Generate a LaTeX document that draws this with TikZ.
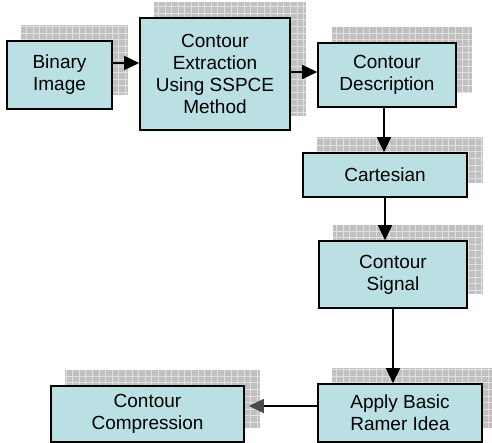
\documentclass[tikz,border=0pt]{standalone}
\usepackage{xcolor}
\usepackage{fontspec}
\setmainfont{Liberation Sans}
\usepackage{tikz}
\usetikzlibrary{arrows.meta, positioning, backgrounds}
\definecolor{boxfill}{RGB}{186,224,228}
\definecolor{shadefill}{RGB}{192,192,192}
\definecolor{shadegrid}{RGB}{224,224,224}
\tikzset{
	x=1pt, y=-1pt, % one unit is one pixel of the layout
	>={Triangle[length=15pt,width=14pt]}, % bold filled arrow heads
	block/.style={draw, line width=1.6pt, fill=boxfill, align=center, inner sep=0pt,
		font=\fontsize{19}{22}\selectfont}, % sets the properties for each box
	flow/.style={->, line width=1.6pt, black}, % connectors between the boxes
}
\begin{document}
\begin{tikzpicture}
	\useasboundingbox (0,0) rectangle (492,443);

	\node[block, minimum width=105, minimum height=68] (b1) at (59.5,75) {Binary\\Image};
	\node[block, minimum width=150, minimum height=112] (b2) at (215,74) {Contour\\Extraction\\Using SSPCE\\Method};
	\node[block, minimum width=138, minimum height=64] (b3) at (387,75) {Contour\\Description};
	\node[block, minimum width=164, minimum height=44] (b4) at (385,175) {Cartesian};
	\node[block, minimum width=148, minimum height=67] (b5) at (393,274.5) {Contour\\Signal};
	\node[block, minimum width=164, minimum height=58] (b6) at (400,413) {Apply Basic\\Ramer Idea};
	\node[block, minimum width=193, minimum height=56] (b7) at (147.5,414) {Contour\\Compression};

	% gridded shadows behind the boxes
	\begin{scope}[on background layer]
		\foreach \i in {1,...,7}
		{
			\begin{scope}
				\clip ([shift={(15,-15)}]b\i.south west) rectangle ([shift={(15,-15)}]b\i.north east);
				\fill[shadefill] ([shift={(15,-15)}]b\i.south west) rectangle ([shift={(15,-15)}]b\i.north east);
				\draw[shadegrid, line width=0.8pt, step=6.6pt] ([shift={(15,-15)}]b\i.south west) grid ([shift={(15,-15)}]b\i.north east);
			\end{scope}
		}
	\end{scope}

	\draw[flow] ([yshift=12]b1.east) -- ([yshift=12]b1.east -| b2.west);
	\draw[flow] ([yshift=2]b2.east) -- ([yshift=2]b2.east -| b3.west);
	\draw[flow] ([xshift=-3]b3.south) -- ([xshift=-3]b3.south |- b4.north);
	\draw[flow] (b4.south) -- (b4.south |- b5.north);
	\draw[flow] (b5.south) -- (b5.south |- b6.north);
	\draw[->, line width=1.6pt, >={Triangle[length=15pt,width=14pt,fill=black!70,color=black!70]}, shorten >=4pt] ([yshift=7]b6.west) -- ([yshift=7]b6.west -| b7.east);

\end{tikzpicture}
\end{document}
